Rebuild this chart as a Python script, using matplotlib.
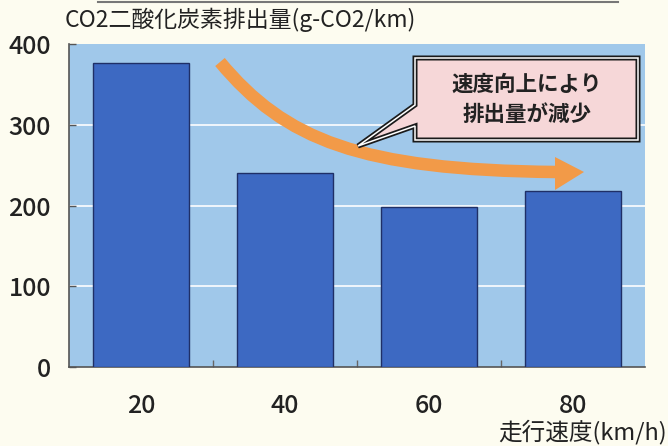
import matplotlib
matplotlib.use("Agg")
import matplotlib.pyplot as plt
from matplotlib.path import Path
from matplotlib.patches import PathPatch, Polygon
from matplotlib.lines import Line2D

plt.rcParams['font.family'] = ['Noto Sans CJK JP', 'DejaVu Sans']

# Data
speeds = ["20", "40", "60", "80"]
co2_g_per_km = [376, 240, 198, 218]
y_ticks = [0, 100, 200, 300, 400]

title_text = "CO2二酸化炭素排出量(g-CO2/km)"
xlabel_text = "走行速度(km/h)"
callout_text = "速度向上により\n排出量が減少"

W, H = 668, 446
fig = plt.figure(figsize=(W / 100, H / 100), dpi=100, facecolor="#fdfcf0")

# Plot area in pixels
L, R, T, B = 69, 645, 44, 367
ax = fig.add_axes([L / W, 1 - B / H, (R - L) / W, (B - T) / H])
ax.set_facecolor("#a0c8ea")

x = range(len(speeds))
ax.bar(x, co2_g_per_km, width=0.67, color="#3d69c2", edgecolor="#1f2f66",
       linewidth=1.0, zorder=3)

ax.set_xlim(-0.5, len(speeds) - 0.5)
ax.set_ylim(0, 400)
ax.set_yticks(y_ticks)
ax.set_xticks(list(x))
ax.set_xticklabels(speeds)
ax.set_xticks([i + 0.5 for i in range(len(speeds) - 1)], minor=True)

for v in y_ticks[1:-1]:
    ax.axhline(v, color="white", lw=1.3, zorder=1, alpha=0.9)

ax.tick_params(axis="y", direction="in", length=5, width=1, color="#555555",
               labelsize=18, pad=13, labelcolor="#222222")
ax.tick_params(axis="x", which="major", length=0, labelsize=18, pad=19,
               labelcolor="#222222")
ax.tick_params(axis="x", which="minor", direction="in", length=5, width=1,
               color="#666666")
for lbl in ax.get_xticklabels() + ax.get_yticklabels():
    lbl.set_fontweight("medium")

for s in ["top", "right"]:
    ax.spines[s].set_visible(False)
ax.spines["left"].set_color("#555555")
ax.spines["bottom"].set_color("#555555")
ax.spines["left"].set_linewidth(1.2)
ax.spines["bottom"].set_linewidth(1.2)


def af(px, py):
    """Pixel position inside the figure -> axes fraction."""
    return ((px - L) / (R - L), (B - py) / (B - T))


# Curved orange trend arrow
verts = [af(220, 62), af(285, 140), af(360, 170), af(556, 172)]
codes = [Path.MOVETO, Path.CURVE4, Path.CURVE4, Path.CURVE4]
shaft = PathPatch(Path(verts, codes), facecolor="none", edgecolor="#f29a48",
                  lw=9, capstyle="butt", transform=ax.transAxes, zorder=4)
ax.add_patch(shaft)
head = Polygon([af(555, 157), af(584, 172), af(555, 190)], closed=True,
               facecolor="#f29a48", edgecolor="none", transform=ax.transAxes,
               zorder=4)
ax.add_patch(head)

# Speech-bubble callout
bubble = [af(415, 58), af(638, 58), af(638, 140), af(415, 140),
          af(415, 126), af(358, 146), af(415, 105)]
ax.add_patch(Polygon(bubble, closed=True, facecolor="#f6d7d8",
                     edgecolor="#1a1a1a", lw=3.6, joinstyle="miter",
                     transform=ax.transAxes, zorder=5))
ax.add_patch(Polygon(bubble, closed=True, facecolor="none",
                     edgecolor="white", lw=1.1, joinstyle="miter",
                     transform=ax.transAxes, zorder=6))
cx, cy = af(527, 99)
ax.text(cx, cy, callout_text, transform=ax.transAxes, ha="center",
        va="center", fontsize=15.5, fontweight="bold", color="#222222",
        linespacing=1.55, zorder=7)

# Titles
fig.text(65 / W, 1 - 20 / H, title_text, ha="left", va="center",
         fontsize=16.5, color="#222222")
fig.text(667 / W, 1 - 432 / H, xlabel_text, ha="right", va="center",
         fontsize=17, color="#222222")

# Rule line along the top edge
fig.add_artist(Line2D([98 / W, 618 / W], [1 - 1.5 / H, 1 - 1.5 / H],
                      transform=fig.transFigure, color="#777777", lw=1.5))

fig.savefig("out.png", dpi=100, facecolor=fig.get_facecolor())
